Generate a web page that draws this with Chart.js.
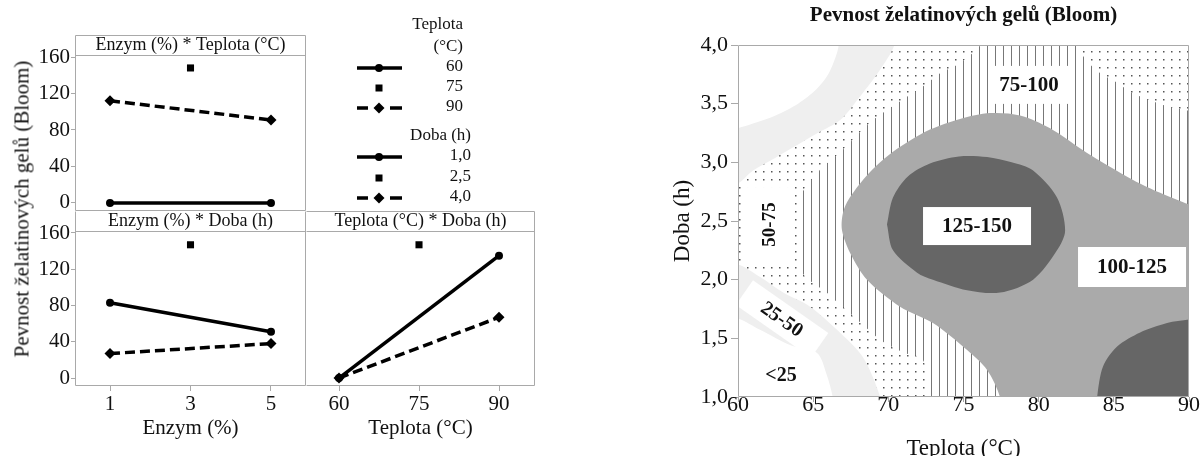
<!DOCTYPE html>
<html>
<head>
<meta charset="utf-8">
<script src="https://cdn.jsdelivr.net/npm/chart.js@4.4.1/dist/chart.umd.min.js"></script>
<style>
  html, body { margin: 0; padding: 0; background: #fff; overflow: hidden; }
  #wrap { position: relative; width: 1202px; height: 456px; }
  canvas { position: absolute; }
  #ytitle {
    position: absolute; left: 22px; top: 209px;
    transform: translate(-50%, -50%) rotate(-90deg);
    font: 21px 'Liberation Serif', serif; color: #111; white-space: nowrap;
  }
</style>
</head>
<body>
<div id="wrap">
  <canvas id="pA" width="540" height="211" style="left:0;top:0"></canvas>
  <canvas id="pB" width="306" height="245" style="left:0;top:211px"></canvas>
  <canvas id="pC" width="234" height="245" style="left:306px;top:211px"></canvas>
  <canvas id="cont" width="642" height="456" style="left:560px;top:0"></canvas>
  <div id="ytitle">Pevnost želatinových gelů (Bloom)</div>
</div>
<script>
// ---- interaction plot data ----
const enzymLevels = [1, 3, 5];
const teplotaLevels = [60, 75, 90];
const teplotaNames = ['60', '75', '90'];
const dobaNames = ['1,0', '2,5', '4,0'];
const bloomTicks = [0, 40, 80, 120, 160];

// Enzym (%) * Teplota (°C)
const etT60 = [0, null, 0];
const etT75 = [null, 148, null];
const etT90 = [112, null, 91];
// Enzym (%) * Doba (h)
const edD10 = [83, null, 51];
const edD25 = [null, 147, null];
const edD40 = [27, null, 38];
// Teplota (°C) * Doba (h)
const tdD10 = [0, null, 135];
const tdD25 = [null, 147, null];
const tdD40 = [0, null, 67];

// ---- contour plot data: [Teplota, Doba] outlines of each band (value above the lower limit) ----
const teplotaTicks = [60, 65, 70, 75, 80, 85, 90];
const dobaTicks = [1, 1.5, 2, 2.5, 3, 3.5, 4];

const zoneOver25 = [[58,1.72],[60,1.67],[61.5,1.57],[63.5,1.44],[65.26,1.375],[65.9,1.19],[66.3,1.0],[66.5,0.8],
  [92,0.8],[92,4.2],[66.75,4.2],[66.7,4.0],[66.5,3.9],[66.0,3.75],[65.2,3.62],[64.0,3.5],[62.5,3.4],[61,3.33],[60,3.29],[58,3.22]];
const zoneOver50 = [[58,2.15],[60,2.13],[61.5,2.02],[63.0,1.89],[64.8,1.77],[66.6,1.57],[68.3,1.34],[69.45,1.0],[69.6,0.8],
  [92,0.8],[92,4.2],[70.5,4.2],[70.4,4.0],[69.45,3.79],[68.1,3.56],[66.8,3.36],[65.3,3.25],[63.7,3.13],[62.5,3.04],[61,2.93],[60,2.82],[58,2.72]];
const zoneOver75 = [[72.9,0.8],[72.8,1.0],[72.6,1.2],[72.2,1.33],[71,1.38],[69.65,1.47],[68.1,1.64],[66,1.88],[64.26,2.06],
  [64.0,2.25],[63.95,2.45],[64.1,2.63],[64.26,2.74],[65.26,2.91],[66.99,3.11],[68.98,3.36],[71.24,3.56],[72.44,3.66],
  [73.44,3.76],[74.57,3.83],[75.5,3.92],[76.1,4.0],[76.3,4.2],[82.4,4.2],[82.55,4.0],[83.3,3.85],[84.1,3.76],[85.2,3.68],
  [86.1,3.6],[87.2,3.54],[88.5,3.48],[90,3.44],[92,3.4],[92,0.8]];
const zoneOver100 = [[77.6,0.8],[77.43,1.0],[76.57,1.23],[75.24,1.40],[72.97,1.63],[70.78,1.77],[68.58,2.0],[67.45,2.23],
  [66.92,2.42],[66.95,2.55],[67.25,2.66],[68.12,2.82],[69.2,2.97],[70.31,3.09],[71.5,3.19],[72.77,3.28],[74.77,3.37],
  [76.77,3.42],[78.76,3.40],[80.76,3.29],[83.22,3.08],[86.28,2.85],[88.08,2.74],[90,2.64],[92,2.55],[92,0.8]];
const zoneOver125a = [[69.91,2.47],[70.31,2.70],[71.3,2.88],[72.77,2.99],[74.7,3.05],[76.57,3.045],[78.2,3.0],[79.63,2.93],
  [81.22,2.70],[81.76,2.42],[81.22,2.25],[79.63,2.0],[77.43,1.89],[75.24,1.91],[72.97,2.0],[71.91,2.06],[70.31,2.25],[69.91,2.47]];
const zoneOver125b = [[83.8,0.8],[83.89,1.0],[84.28,1.26],[85.22,1.43],[86.75,1.55],[88.54,1.63],[90,1.66],[92,1.68],[92,0.8]];

const zoneNames = ['<25', '25-50', '50-75', '75-100', '100-125', '125-150'];
const zoneLabelT = [62.86, 62.93, 62.06, 79.36, 86.21, 75.9];
const zoneLabelD = [1.19, 1.665, 2.47, 3.66, 2.108, 2.457];

// ---- helpers ----
const FONT = "'Liberation Serif', serif";
const GRAY = '#a9a9a9';
Chart.defaults.font.family = FONT;
Chart.defaults.color = '#111';

function pts(levels, vals) {
  return levels.map((x, i) => ({x: x, y: vals[i]})).filter(p => p.y !== null);
}

function pattern(kind) {
  const c = document.createElement('canvas');
  c.width = 8; c.height = 8;
  const g = c.getContext('2d');
  g.fillStyle = '#fff';
  g.fillRect(0, 0, 8, 8);
  if (kind === 'dots') {
    g.fillStyle = '#555';
    g.fillRect(3, 3, 1.5, 1.5);
  } else {
    g.fillStyle = '#777';
    g.fillRect(3, 0, 1, 8);
  }
  return g.createPattern(c, 'repeat');
}

const panelBox = {
  id: 'panelBox',
  afterDraw(chart, args, o) {
    if (!o || !o.edges) return;
    const {ctx, chartArea: a} = chart;
    const L = Math.round(a.left) + 0.5, R = Math.round(a.right) - 0.5;
    const T = Math.round(a.top - o.strip) + 0.5, S = Math.round(a.top) + 0.5, B = Math.round(a.bottom) - 0.5;
    ctx.save();
    ctx.strokeStyle = GRAY;
    ctx.lineWidth = 1;
    ctx.beginPath();
    if (o.edges.includes('t')) { ctx.moveTo(L, T); ctx.lineTo(R, T); }
    if (o.edges.includes('b')) { ctx.moveTo(L, B); ctx.lineTo(R, B); }
    if (o.edges.includes('l')) { ctx.moveTo(L, T); ctx.lineTo(L, B); }
    if (o.edges.includes('r')) { ctx.moveTo(R, T); ctx.lineTo(R, B); }
    if (o.strip) { ctx.moveTo(L, S); ctx.lineTo(R, S); }
    ctx.stroke();
    ctx.restore();
  }
};

function drawKey(ctx, kind, x, y) {
  ctx.save();
  ctx.strokeStyle = '#000';
  ctx.fillStyle = '#000';
  ctx.lineWidth = 3.5;
  if (kind === 0) {
    ctx.beginPath(); ctx.moveTo(x - 22, y); ctx.lineTo(x + 23, y); ctx.stroke();
    ctx.beginPath(); ctx.arc(x, y, 4, 0, Math.PI * 2); ctx.fill();
  } else if (kind === 1) {
    ctx.fillRect(x - 3.5, y - 3.5, 7, 7);
  } else {
    ctx.beginPath();
    ctx.moveTo(x - 22, y); ctx.lineTo(x - 11, y);
    ctx.moveTo(x + 11, y); ctx.lineTo(x + 23, y);
    ctx.stroke();
    ctx.beginPath();
    ctx.moveTo(x, y - 5.5); ctx.lineTo(x + 5.5, y); ctx.lineTo(x, y + 5.5); ctx.lineTo(x - 5.5, y);
    ctx.closePath(); ctx.fill();
  }
  ctx.restore();
}

const factorLegend = {
  id: 'factorLegend',
  afterDraw(chart, args, o) {
    if (!o || !o.groups) return;
    const ctx = chart.ctx;
    ctx.save();
    ctx.font = '17px ' + FONT;
    ctx.fillStyle = '#111';
    ctx.textBaseline = 'middle';
    ctx.textAlign = 'right';
    o.groups.forEach(g => {
      g.title.forEach((t, i) => ctx.fillText(t, g.right, g.titleY[i]));
      g.names.forEach((n, i) => {
        ctx.fillText(n, g.right, g.rowY[i]);
        drawKey(ctx, i, o.keyX, g.rowY[i] + 1);
      });
    });
    ctx.restore();
  }
};

function series(levels, a, b, c) {
  return [
    {data: pts(levels, c), borderColor: '#000', backgroundColor: '#000', borderWidth: 3.5, borderDash: [10, 5],
     pointStyle: 'rectRot', pointRadius: 5.5, pointBorderWidth: 0, order: 0},
    {data: pts(levels, b), showLine: false, borderColor: '#000', backgroundColor: '#000',
     pointStyle: 'rect', pointRadius: 5, pointBorderWidth: 0, order: 1},
    {data: pts(levels, a), borderColor: '#000', backgroundColor: '#000', borderWidth: 3.5,
     pointStyle: 'circle', pointRadius: 4, pointBorderWidth: 0, order: 2}
  ];
}

function yAxis(show) {
  return {
    display: show, min: -8.8, max: 162.2,
    afterBuildTicks: s => { s.ticks = bloomTicks.map(v => ({value: v})); },
    afterFit: s => { if (show) s.width = 75; s.paddingTop = 0; s.paddingBottom = 0; },
    ticks: {font: {size: 21, lineHeight: 1}, padding: 1, color: '#111'},
    grid: {drawOnChartArea: false, tickLength: 4, color: GRAY},
    border: {display: false}
  };
}

function xAxis(show, levels, min, max, title) {
  return {
    type: 'linear', display: show, min: min, max: max,
    afterBuildTicks: s => { s.ticks = levels.map(v => ({value: v})); },
    afterFit: s => { if (show) s.height = 70; s.paddingLeft = 0; s.paddingRight = 0; },
    ticks: {font: {size: 21, lineHeight: 1}, padding: 2.5, color: '#111'},
    grid: {drawOnChartArea: false, tickLength: 5, color: GRAY},
    border: {display: false},
    title: {display: !!title, text: title, font: {size: 21, lineHeight: 1}, padding: {top: 0, bottom: 17.5}, color: '#111'}
  };
}

function panel(id, strip, datasets, scales, padding, box, legend) {
  return new Chart(document.getElementById(id), {
    type: 'line',
    data: {datasets: datasets},
    options: {
      responsive: false, animation: false, events: [], devicePixelRatio: 1,
      layout: {padding: padding, autoPadding: false},
      plugins: {
        legend: {display: false}, tooltip: {enabled: false},
        title: {display: true, text: strip, fullSize: false, color: '#111',
                font: {size: 18, weight: 'normal', lineHeight: '18px'}, padding: {top: 1, bottom: 1}},
        panelBox: box,
        factorLegend: legend
      },
      scales: scales
    },
    plugins: [panelBox, factorLegend]
  });
}

panel('pA', 'Enzym (%) * Teplota (°C)', series(enzymLevels, etT60, etT75, etT90),
  {x: xAxis(false, enzymLevels, 0.13, 5.87, ''), y: yAxis(true)},
  {top: 35, right: 234, left: 0, bottom: 0},
  {edges: 'tblr', strip: 20},
  {keyX: 379, groups: [
    {title: ['Teplota', '(°C)'], titleY: [25, 47], right: 463, names: teplotaNames, rowY: [67, 87, 107]},
    {title: ['Doba (h)'], titleY: [136], right: 471, names: dobaNames, rowY: [156, 177, 197]}
  ]});

panel('pB', 'Enzym (%) * Doba (h)', series(enzymLevels, edD10, edD25, edD40),
  {x: xAxis(true, enzymLevels, 0.13, 5.87, 'Enzym (%)'), y: yAxis(true)},
  {top: 0, right: 0, left: 0, bottom: 0},
  {edges: 'blr', strip: 20}, {});

panel('pC', 'Teplota (°C) * Doba (h)', series(teplotaLevels, tdD10, tdD25, tdD40),
  {x: xAxis(true, teplotaLevels, 53.81, 96.75, 'Teplota (°C)'), y: yAxis(false)},
  {top: 0, right: 5, left: 0, bottom: 0},
  {edges: 'tbr', strip: 20}, {});

// ---- contour plot ----
const zoneLabels = {
  id: 'zoneLabels',
  afterDatasetsDraw(chart, args, o) {
    const {ctx, scales: {x, y}} = chart;
    zoneNames.forEach((t, i) => {
      const s = o.styles[i];
      ctx.save();
      ctx.translate(x.getPixelForValue(zoneLabelT[i]), y.getPixelForValue(zoneLabelD[i]));
      ctx.rotate((s.rot || 0) * Math.PI / 180);
      if (s.w) {
        ctx.fillStyle = '#fff';
        ctx.fillRect(-s.w / 2, -s.h / 2, s.w, s.h);
      }
      ctx.fillStyle = '#111';
      ctx.font = 'bold ' + s.size + 'px ' + FONT;
      ctx.textAlign = 'center';
      ctx.textBaseline = 'middle';
      ctx.fillText(t, 0, 1);
      ctx.restore();
    });
  }
};

const zoneFills = ['#efefef', pattern('dots'), pattern('lines'), '#aaaaaa', '#666666', '#666666'];
const zones = [zoneOver25, zoneOver50, zoneOver75, zoneOver100, zoneOver125a, zoneOver125b];

new Chart(document.getElementById('cont'), {
  type: 'line',
  data: {
    datasets: zones.map((z, i) => ({
      data: z.map(p => ({x: p[0], y: p[1]})),
      fill: 'shape', backgroundColor: zoneFills[i], borderWidth: 0, pointRadius: 0,
      tension: 0.3, capBezierPoints: false, order: 10 - i
    }))
  },
  options: {
    responsive: false, animation: false, events: [], devicePixelRatio: 1,
    layout: {padding: {top: 0, right: 13, left: 0, bottom: 0}, autoPadding: false},
    elements: {line: {capBezierPoints: false}},
    plugins: {
      legend: {display: false}, tooltip: {enabled: false},
      title: {display: true, text: 'Pevnost želatinových gelů (Bloom)', fullSize: false, color: '#111',
              font: {size: 21, weight: 'bold', lineHeight: '21px'}, padding: {top: 5, bottom: 19}},
      panelBox: {edges: 'tblr', strip: 0},
      zoneLabels: {styles: [
        {size: 20},
        {size: 20, rot: 35, w: 92, h: 30},
        {size: 19, rot: -90, w: 75, h: 46},
        {size: 21, w: 82, h: 38},
        {size: 21, w: 108, h: 40},
        {size: 21, w: 108, h: 38}
      ]}
    },
    scales: {
      x: {
        type: 'linear', min: 60, max: 90,
        afterBuildTicks: s => { s.ticks = teplotaTicks.map(v => ({value: v})); },
        afterFit: s => { s.height = 59; s.paddingLeft = 0; s.paddingRight = 0; },
        ticks: {font: {size: 22, lineHeight: 1}, padding: -8, color: '#111'},
        grid: {drawOnChartArea: false, tickLength: 5, color: GRAY},
        border: {display: false},
        title: {display: true, text: 'Teplota (°C)', font: {size: 23, lineHeight: 1}, padding: {top: 0, bottom: -4.5}, color: '#111'}
      },
      y: {
        min: 1, max: 4,
        afterBuildTicks: s => { s.ticks = dobaTicks.map(v => ({value: v})); },
        afterFit: s => { s.width = 178; s.paddingTop = 0; s.paddingBottom = 0; },
        ticks: {font: {size: 22, lineHeight: 1}, padding: 3, color: '#111',
                callback: v => v.toFixed(1).replace('.', ',')},
        grid: {drawOnChartArea: false, tickLength: 7, color: GRAY},
        border: {display: false},
        title: {display: true, text: 'Doba (h)', font: {size: 23, lineHeight: 1}, padding: {top: 111.5, bottom: 0}, color: '#111'}
      }
    }
  },
  plugins: [zoneLabels, panelBox]
});
</script>
</body>
</html>
